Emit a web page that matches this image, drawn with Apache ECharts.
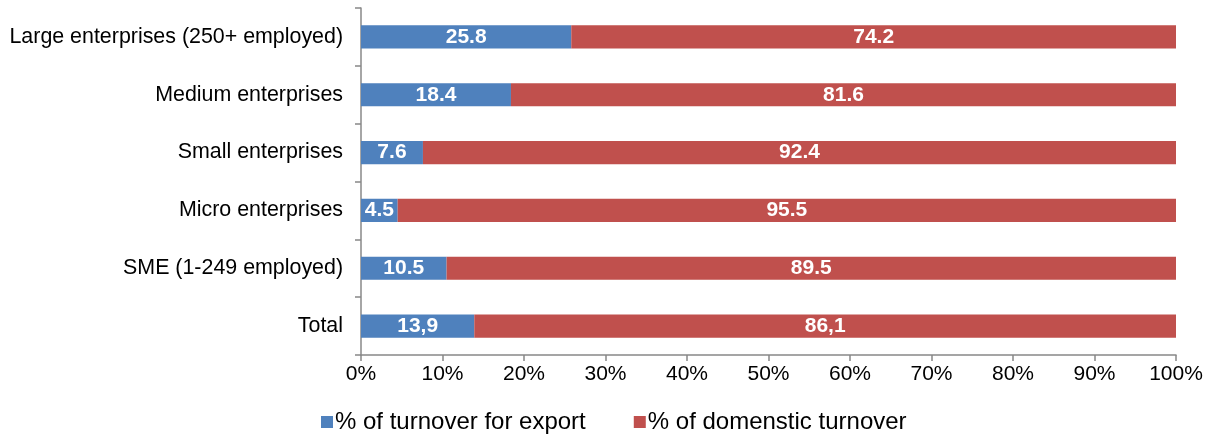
<!DOCTYPE html>
<html>
<head>
<meta charset="utf-8">
<script src="https://cdn.jsdelivr.net/npm/echarts@6/dist/echarts.min.js"></script>
<style>html,body{margin:0;padding:0;background:#fff;}#c{width:1212px;height:434px;}</style>
</head>
<body>
<div id="c"></div>
<script>
const categories = ['Large enterprises (250+ employed)', 'Medium enterprises', 'Small enterprises', 'Micro enterprises', 'SME (1-249 employed)', 'Total'];
const exportValues = [25.8, 18.4, 7.6, 4.5, 10.5, 13.9];
const domesticValues = [74.2, 81.6, 92.4, 95.5, 89.5, 86.1];
const exportLabels = ['25.8', '18.4', '7.6', '4.5', '10.5', '13,9'];
const domesticLabels = ['74.2', '81.6', '92.4', '95.5', '89.5', '86,1'];
const seriesNames = ['% of turnover for export', '% of domenstic turnover'];

const font = 'Liberation Sans, Arial, sans-serif';
const chart = echarts.init(document.getElementById('c'), null, {renderer: 'canvas'});
const labelStyle = (labels) => ({
  show: true, position: 'inside', color: '#fff', fontWeight: 'bold',
  fontFamily: font, fontSize: 21,
  formatter: p => labels[p.dataIndex]
});
chart.setOption({
  animation: false,
  grid: {left: 361, right: 36, top: 8, bottom: 79, containLabel: false},
  legend: {
    left: 316, top: 405, itemWidth: 12, itemHeight: 12, itemGap: 48, icon: 'rect',
    textStyle: {fontFamily: font, fontSize: 24, color: '#000', padding: [0, 0, 0, -3]},
    data: seriesNames
  },
  xAxis: {
    type: 'value', min: 0, max: 100, interval: 10,
    axisLine: {show: true, lineStyle: {color: '#888', width: 1.5}},
    axisTick: {show: true, length: 6, lineStyle: {color: '#888', width: 1.5}},
    splitLine: {show: false},
    axisLabel: {formatter: '{value}%', fontFamily: font, fontSize: 21, color: '#000', margin: 9}
  },
  yAxis: {
    type: 'category', inverse: true, data: categories,
    axisLine: {show: true, lineStyle: {color: '#888', width: 1.5}},
    axisTick: {show: true, length: 6, lineStyle: {color: '#888', width: 1.5}},
    axisLabel: {fontFamily: font, fontSize: 21.4, color: '#000', margin: 18}
  },
  series: [
    {name: seriesNames[0], type: 'bar', stack: 't', data: exportValues, barWidth: '40%',
     itemStyle: {color: '#4F81BD'}, label: labelStyle(exportLabels)},
    {name: seriesNames[1], type: 'bar', stack: 't', data: domesticValues, barWidth: '40%',
     itemStyle: {color: '#C0504D'}, label: labelStyle(domesticLabels)}
  ]
});
</script>
</body>
</html>
